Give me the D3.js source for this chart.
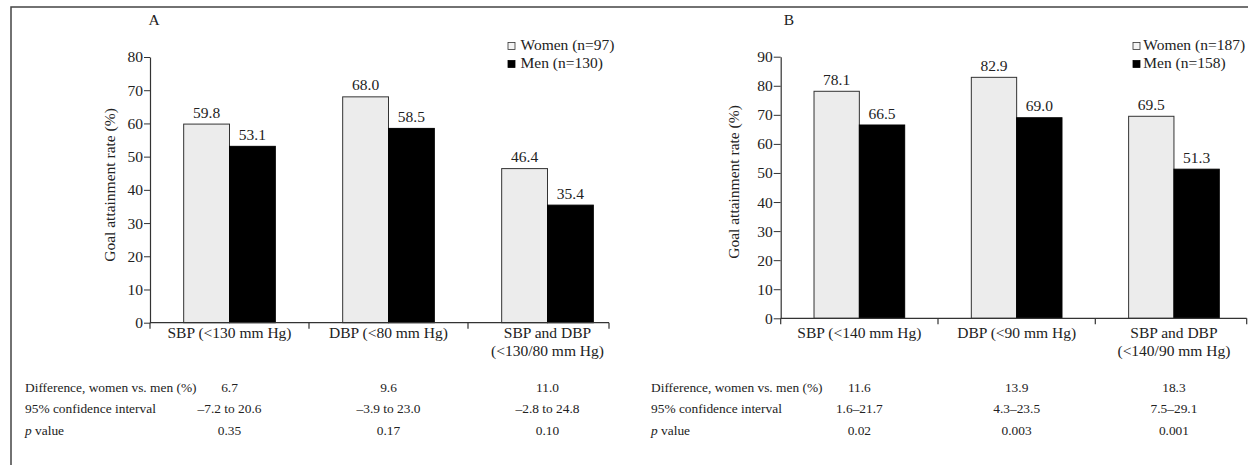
<html>
<head>
<meta charset="utf-8">
<script src="https://d3js.org/d3.v7.min.js"></script>
<style>
body { margin: 0; background: #fff; }
svg { display: block; font-family: "Liberation Serif", "Times New Roman", serif; }
text { fill: #222; }
.axis path, .axis line { stroke: #333; }
.axis text { font-family: "Liberation Serif", "Times New Roman", serif; font-size: 15.5px; fill: #222; }
</style>
</head>
<body>
<div id="chart"></div>
<script>
// ---- data ----
var seriesNames = ["Women", "Men"];
var rowLabels = ["Difference, women vs. men (%)", "95% confidence interval", "p value"];

var categoriesA = [["SBP (<130 mm Hg)"], ["DBP (<80 mm Hg)"], ["SBP and DBP", "(<130/80 mm Hg)"]];
var womenA = [59.8, 68.0, 46.4];
var menA = [53.1, 58.5, 35.4];
var legendA = ["Women (n=97)", "Men (n=130)"];
var ticksA = [0, 10, 20, 30, 40, 50, 60, 70, 80];
var diffA = ["6.7", "9.6", "11.0"];
var ciA = ["\u20137.2 to 20.6", "\u20133.9 to 23.0", "\u20132.8 to 24.8"];
var pA = ["0.35", "0.17", "0.10"];

var categoriesB = [["SBP (<140 mm Hg)"], ["DBP (<90 mm Hg)"], ["SBP and DBP", "(<140/90 mm Hg)"]];
var womenB = [78.1, 82.9, 69.5];
var menB = [66.5, 69.0, 51.3];
var legendB = ["Women (n=187)", "Men (n=158)"];
var ticksB = [0, 10, 20, 30, 40, 50, 60, 70, 80, 90];
var diffB = ["11.6", "13.9", "18.3"];
var ciB = ["1.6\u201321.7", "4.3\u201323.5", "7.5\u201329.1"];
var pB = ["0.02", "0.003", "0.001"];

var width = 1254, height = 465;

var svg = d3.select("#chart").append("svg")
  .attr("width", width).attr("height", height);

// outer frame (top and left edges only)
svg.append("path")
  .attr("d", "M11,465V7H1248")
  .attr("fill", "none").attr("stroke", "#444").attr("stroke-width", 1.5);

function drawPanel(p) {
  var g = svg.append("g");
  var keys = p.categories.map(function (c) { return c.join(" "); });

  var x0 = d3.scaleBand().domain(keys)
    .range([p.axisX, p.axisX + p.step * keys.length]);
  var x1 = d3.scaleBand().domain(seriesNames)
    .range([0, x0.bandwidth()]).paddingInner(0).paddingOuter(0.735);
  var y = d3.scaleLinear().domain([0, d3.max(p.ticks)]).range([p.bottom, p.top]);

  var rows = keys.map(function (k, i) {
    return { key: k, values: [p.women[i], p.men[i]] };
  });

  // bars
  var grp = g.selectAll(".grp").data(rows).enter().append("g")
    .attr("transform", function (d) { return "translate(" + x0(d.key) + ",0)"; });

  grp.selectAll("rect").data(function (d) {
      return d.values.map(function (v, i) { return { s: seriesNames[i], v: v }; });
    })
    .enter().append("rect")
    .attr("x", function (d) { return x1(d.s); })
    .attr("y", function (d) { return y(d.v); })
    .attr("width", x1.bandwidth())
    .attr("height", function (d) { return y(0) - y(d.v); })
    .attr("fill", function (d) { return d.s == "Women" ? "#ececec" : "#000"; })
    .attr("stroke", function (d) { return d.s == "Women" ? "#333" : "#000"; })
    .attr("stroke-width", 1);

  grp.selectAll(".val").data(function (d) {
      return d.values.map(function (v, i) { return { s: seriesNames[i], v: v }; });
    })
    .enter().append("text")
    .attr("x", function (d) { return x1(d.s) + x1.bandwidth() / 2; })
    .attr("y", function (d) { return y(d.v) - 6.5; })
    .attr("text-anchor", "middle")
    .style("font-size", "15.5px")
    .text(function (d) { return d.v.toFixed(1); });

  // y axis
  var yAxis = g.append("g").attr("class", "axis")
    .attr("transform", "translate(" + p.axisX + ",0)")
    .call(d3.axisLeft(y).tickValues(p.ticks).tickSize(p.tick).tickSizeOuter(0).tickPadding(1));
  yAxis.select(".domain").attr("stroke-width", 1.2);

  // x axis: baseline with separators below
  g.append("line")
    .attr("x1", p.axisX).attr("x2", p.axisEnd)
    .attr("y1", y(0)).attr("y2", y(0))
    .attr("stroke", "#333").attr("stroke-width", 1.2);
  var seps = [p.axisX].concat(keys.slice(1).map(function (k) { return x0(k); })).concat([p.axisEnd]);
  g.selectAll(".sep").data(seps).enter().append("line")
    .attr("x1", function (d) { return d; }).attr("x2", function (d) { return d; })
    .attr("y1", y(0)).attr("y2", y(0) + 6)
    .attr("stroke", "#333").attr("stroke-width", 1.2);

  // category labels
  var cat = g.selectAll(".cat").data(p.categories).enter().append("text")
    .attr("text-anchor", "middle")
    .style("font-size", "15.5px");
  cat.selectAll("tspan").data(function (d, i) {
      return d.map(function (line) { return { line: line, k: keys[i] }; });
    })
    .enter().append("tspan")
    .attr("x", function (d) { return x0(d.k) + x0.bandwidth() / 2; })
    .attr("y", function (d, j) { return p.labelY + j * 18; })
    .text(function (d) { return d.line; });

  // axis title
  g.append("text")
    .attr("transform", "translate(" + p.titleX + "," + p.titleY + ") rotate(-90)")
    .attr("text-anchor", "middle")
    .attr("dy", "0.35em")
    .style("font-size", "15.5px")
    .text("Goal attainment rate (%)");

  // panel letter
  g.append("text")
    .attr("x", p.letterX).attr("y", 25)
    .attr("text-anchor", "middle")
    .style("font-size", "15.5px")
    .text(p.letter);

  // legend
  var leg = g.selectAll(".leg").data(p.legend).enter().append("g")
    .attr("transform", function (d, i) { return "translate(0," + (49.5 + i * 18) + ")"; });
  leg.append("rect")
    .attr("x", p.legendX).attr("y", -7).attr("width", 7).attr("height", 7)
    .attr("fill", function (d, i) { return i == 0 ? "#f4f4f4" : "#000"; })
    .attr("stroke", function (d, i) { return i == 0 ? "#333" : "#000"; })
    .attr("stroke-width", 0.8);
  leg.append("text")
    .attr("x", p.legendTextX).attr("y", 0)
    .style("font-size", "15.5px")
    .text(function (d) { return d; });

  // statistics table
  var tableRows = [p.diff, p.ci, p.pv];
  var rowY = [391.5, 413, 434.5];
  tableRows.forEach(function (vals, r) {
    var lab = g.append("text")
      .attr("x", p.tableX).attr("y", rowY[r])
      .style("font-size", "13.4px");
    if (r == 2) {
      lab.append("tspan").style("font-style", "italic").text("p");
      lab.append("tspan").text(" value");
    } else {
      lab.text(rowLabels[r]);
    }
    g.selectAll(".cell" + r).data(vals).enter().append("text")
      .attr("x", function (d, i) { return x0(keys[i]) + x0.bandwidth() / 2; })
      .attr("y", rowY[r])
      .attr("text-anchor", "middle")
      .style("font-size", "13.4px")
      .text(function (d) { return d; });
  });
}

drawPanel({
  letter: "A", categories: categoriesA, women: womenA, men: menA, legend: legendA,
  ticks: ticksA, diff: diffA, ci: ciA, pv: pA,
  axisX: 150, axisEnd: 609, step: 159, top: 57, bottom: 322.7, tick: 6,
  labelY: 338, titleX: 110, titleY: 185, letterX: 154,
  legendX: 508, legendTextX: 520.5, tableX: 25
});

drawPanel({
  letter: "B", categories: categoriesB, women: womenB, men: menB, legend: legendB,
  ticks: ticksB, diff: diffB, ci: ciB, pv: pB,
  axisX: 780.7, axisEnd: 1246.7, step: 157.3, top: 56.7, bottom: 318.3, tick: 7,
  labelY: 338, titleX: 734, titleY: 182, letterX: 789,
  legendX: 1133, legendTextX: 1143.3, tableX: 651
});
</script>
</body>
</html>
